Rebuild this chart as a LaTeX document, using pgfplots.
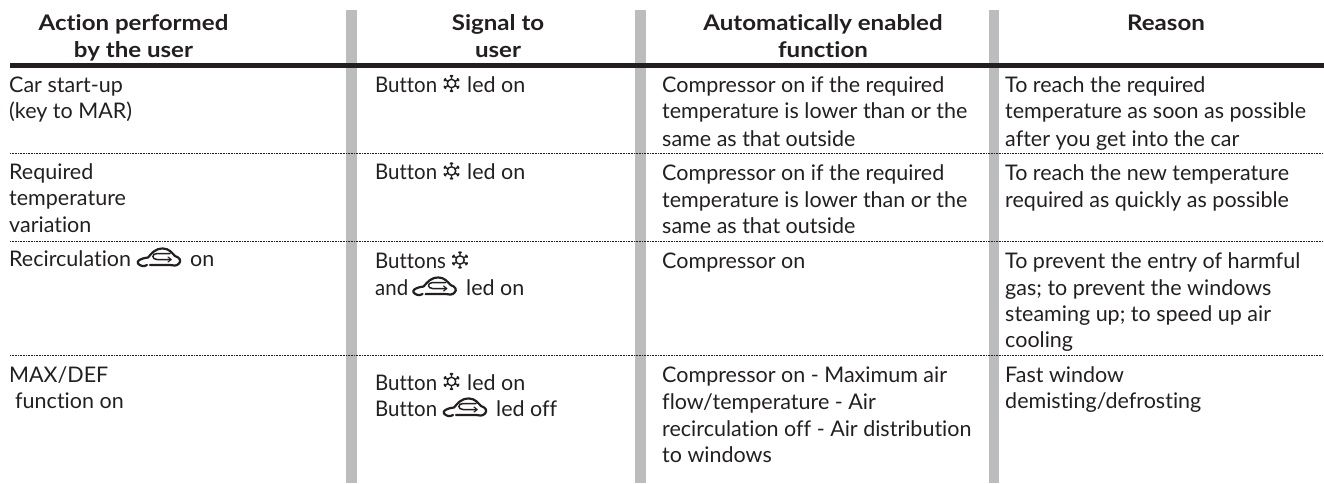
\documentclass[border=0pt]{standalone}
\usepackage{pgfplots}
\pgfplotsset{compat=1.18}
\usepackage{fontspec}
\setmainfont{Lato}[Ligatures=NoCommon,BoldFeatures={FakeStretch=1.12}]
\definecolor{tx}{HTML}{231F20}
\definecolor{bar}{HTML}{BBBCBE}
\newcommand{\T}[3]{\node[anchor=base west,inner sep=0pt,text=tx,font=\fontsize{21.5}{21.5}\selectfont] at (axis cs:#1,#2) {#3};}
\newcommand{\Tn}[3]{\node[anchor=base west,inner sep=0pt,text=tx,font=\fontsize{21.5}{21.5}\selectfont\addfontfeature{FakeStretch=0.95}] at (axis cs:#1,#2) {#3};}
\newcommand{\Hd}[3]{\node[anchor=base,inner sep=0pt,text=tx,font=\fontsize{21.5}{21.5}\selectfont\bfseries] at (axis cs:#1,#2) {#3};}
\newcommand{\Spk}[1]{(#1:4.2) -- (#1:8.6) (#1:6.7) -- ++(#1+50:2) (#1:6.7) -- ++(#1-50:2)}
\newcommand{\Sn}[2]{\draw[shift={(axis cs:#1,#2)},tx,line width=1.4pt] (0,0) circle (4.2) \Spk{30} \Spk{90} \Spk{150} \Spk{210} \Spk{270} \Spk{330};}
\newcommand{\Car}[2]{\draw[shift={(axis cs:#1,#2)},yscale=-1,tx,line join=round,line cap=round,line width=2.2pt] (10,1) .. controls (7,-1) and (3,0) .. (1,2.5) .. controls (-0.5,5) and (3,7.5) .. (11,8.5) .. controls (15,13) and (18,17.5) .. (26,17.5) .. controls (32,17.5) and (35,13) .. (38,10) .. controls (43,8.5) and (44.5,5) .. (42,2.5) .. controls (40,0) and (36,0) .. (33,1) -- (13,1);
 \draw[shift={(axis cs:#1,#2)},yscale=-1,tx,line join=round,line cap=round,line width=1.5pt] (33,12.5) -- (20,12.5) .. controls (14.5,12.5) and (14.5,6.5) .. (20,6.5) -- (34,6.5);
 \draw[shift={(axis cs:#1,#2)},yscale=-1,tx,line join=round,line cap=round,line width=1.2pt] (31,9) -- (34,6.5) -- (31,4);}
\begin{document}
\begin{tikzpicture}
\begin{axis}[
  scale only axis, width=1324pt, height=483pt,
  xmin=0, xmax=1324, ymin=0, ymax=483, y dir=reverse,
  hide axis, clip=true]
\addplot[draw=none, forget plot] coordinates {(0,0) (1324,483)};
% vertical separators
\addplot[bar, line width=10.5pt, forget plot] coordinates {(351.3,10) (351.3,483)};
\addplot[bar, line width=10.5pt, forget plot] coordinates {(640.3,10) (640.3,483)};
\addplot[bar, line width=10.5pt, forget plot] coordinates {(994,10) (994,483)};
% rules
\addplot[tx, line width=5pt, forget plot] coordinates {(10,65.8) (1324,65.8)};
\addplot[tx, line width=.8pt, dash pattern=on .8pt off .8pt, forget plot] coordinates {(10,153) (1324,153)};
\addplot[tx, line width=.8pt, dash pattern=on .8pt off .8pt, forget plot] coordinates {(10,241) (1324,241)};
\addplot[tx, line width=.8pt, dash pattern=on .8pt off .8pt, forget plot] coordinates {(10,355) (1324,355)};
% header
\Hd{133.5}{30}{Action performed}
\Hd{133.5}{57}{by the user}
\Hd{498}{30}{Signal to}
\Hd{498}{57}{user}
\Hd{823}{30}{Automatically enabled}
\Hd{823}{57}{function}
\Hd{1166}{30}{Reason}
% col 1
\T{9}{92}{Car start-up}
\T{9}{118}{(key to MAR)}
\T{9}{179}{Required}
\T{9}{205}{temperature}
\T{9}{232}{variation}
\T{9}{266}{Recirculation}
\T{190}{266}{on}
\T{9}{382}{MAX/DEF}
\T{15}{408}{function on}
% col 2
\Tn{375}{92}{Button}
\T{467}{92}{led on}
\Tn{375}{179}{Button}
\T{467}{179}{led on}
\Tn{375}{268}{Buttons}
\Tn{375}{295}{and}
\T{466}{295}{led on}
\Tn{375}{390}{Button}
\T{467}{390}{led on}
\Tn{375}{416}{Button}
\T{496}{416}{led off}
\Sn{451.5}{83.5}
\Sn{451.5}{171}
\Sn{460}{260}
\Sn{451.5}{381.5}
\Car{137}{266}
\Car{412.6}{295}
\Car{443}{416}
% col 3
\T{662}{92}{Compressor on if the required}
\T{662}{118}{temperature is lower than or the}
\T{662}{146}{same as that outside}
\T{662}{180}{Compressor on if the required}
\T{662}{207}{temperature is lower than or the}
\T{662}{233}{same as that outside}
\T{662}{268}{Compressor on}
\T{662}{382}{Compressor on - Maximum air}
\T{662}{409}{flow/temperature - Air}
\T{662}{436}{recirculation off - Air distribution}
\T{662}{462}{to windows}
% col 4
\T{1005}{92}{To reach the required}
\T{1005}{118}{temperature as soon as possible}
\T{1005}{146}{after you get into the car}
\T{1005}{180}{To reach the new temperature}
\T{1005}{207}{required as quickly as possible}
\T{1005}{268}{To prevent the entry of harmful}
\T{1005}{295}{gas; to prevent the windows}
\T{1005}{321}{steaming up; to speed up air}
\T{1005}{347}{cooling}
\T{1005}{382}{Fast window}
\T{1005}{408}{demisting/defrosting}
\end{axis}
\end{tikzpicture}
\end{document}
